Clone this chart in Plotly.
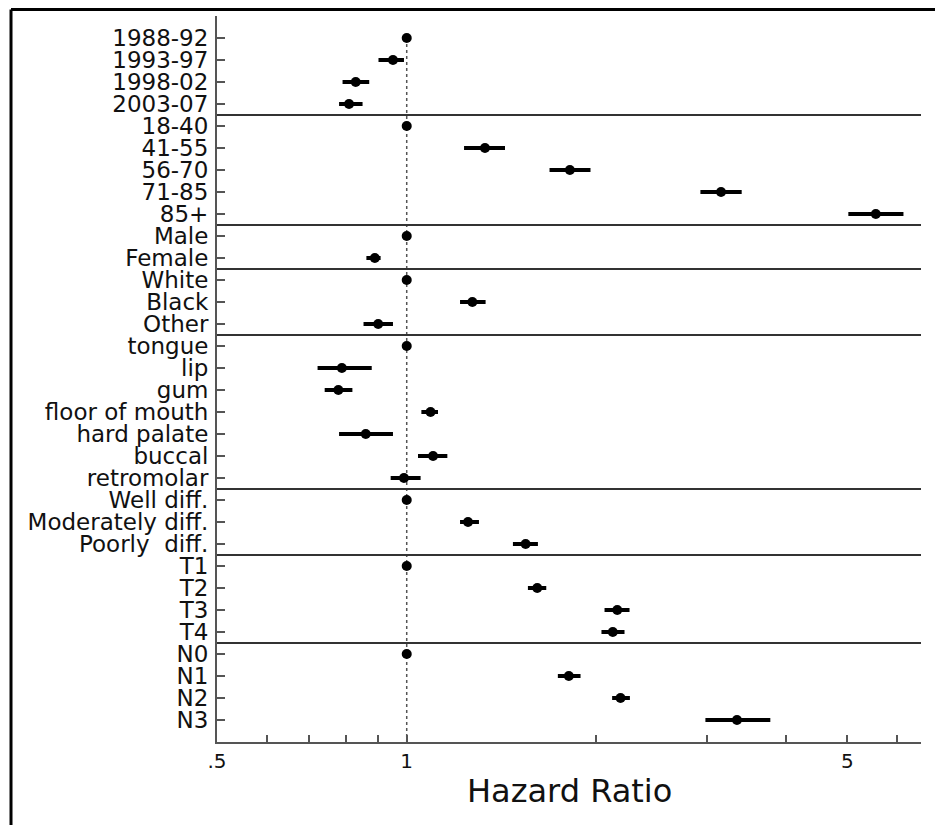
import plotly.graph_objects as go

# ---- data ----
group_sizes = [4, 5, 2, 3, 7, 3, 4, 4]
labels = ["1988-92", "1993-97", "1998-02", "2003-07",
          "18-40", "41-55", "56-70", "71-85", "85+",
          "Male", "Female",
          "White", "Black", "Other",
          "tongue", "lip", "gum", "floor of mouth", "hard palate", "buccal", "retromolar",
          "Well diff.", "Moderately diff.", "Poorly  diff.",
          "T1", "T2", "T3", "T4",
          "N0", "N1", "N2", "N3"]
hr = [1.0, 0.951, 0.830, 0.810,
      1.0, 1.331, 1.815, 3.153, 5.55,
      1.0, 0.890,
      1.0, 1.271, 0.901,
      1.0, 0.789, 0.779, 1.091, 0.861, 1.101, 0.990,
      1.0, 1.251, 1.544,
      1.0, 1.611, 2.158, 2.123,
      1.0, 1.808, 2.184, 3.342]
lo = [1.0, 0.902, 0.791, 0.781,
      1.0, 1.233, 1.685, 2.924, 5.02,
      1.0, 0.863,
      1.0, 1.215, 0.854,
      1.0, 0.722, 0.741, 1.055, 0.781, 1.042, 0.943,
      1.0, 1.215, 1.474,
      1.0, 1.557, 2.060, 2.037,
      1.0, 1.737, 2.118, 2.978]
hi = [1.0, 0.990, 0.872, 0.851,
      1.0, 1.432, 1.957, 3.400, 6.14,
      1.0, 0.909,
      1.0, 1.334, 0.951,
      1.0, 0.880, 0.820, 1.121, 0.951, 1.160, 1.052,
      1.0, 1.302, 1.615,
      1.0, 1.665, 2.257, 2.216,
      1.0, 1.887, 2.260, 3.775]
x_tickvals = [0.5, 1, 5]
x_ticktext = [".5", "1", "5"]
x_minor = [0.6, 0.7, 0.8, 0.9, 2, 3, 4, 6]

rows = list(range(1, len(labels) + 1))
n = len(labels)

FONT = "DejaVu Sans, Liberation Sans, Arial, sans-serif"

fig = go.Figure()

# reference line at HR = 1
fig.add_trace(go.Scatter(x=[1, 1], y=[1, n + 1], mode="lines",
                         line=dict(color="#555555", width=1.5, dash="dot"),
                         hoverinfo="skip", showlegend=False))

fig.add_trace(go.Scatter(
    x=hr, y=rows, mode="markers",
    marker=dict(color="black", size=10, symbol="circle"),
    error_x=dict(type="data", symmetric=False,
                 array=[h - v for h, v in zip(hi, hr)],
                 arrayminus=[v - l for v, l in zip(hr, lo)],
                 color="black", thickness=4, width=0),
    showlegend=False))

shapes = []
cum = 0
for s in group_sizes[:-1]:
    cum += s
    shapes.append(dict(type="line", xref="paper", yref="y", x0=0, x1=1,
                       y0=cum + 0.5, y1=cum + 0.5,
                       line=dict(color="#333333", width=2)))
# outer frame (top and left)
shapes.append(dict(type="line", xref="paper", yref="paper",
                   x0=-0.2926, x1=1.04, y0=1.0089, y1=1.0089,
                   line=dict(color="black", width=3)))
shapes.append(dict(type="line", xref="paper", yref="paper",
                   x0=-0.2926, x1=-0.2926, y0=1.0089, y1=-0.13,
                   line=dict(color="black", width=3)))

fig.update_layout(
    width=935, height=817,
    margin=dict(l=209, r=22, t=8, b=83),
    paper_bgcolor="white", plot_bgcolor="white",
    font=dict(family=FONT, color="black"),
    shapes=shapes,
    annotations=[dict(text="Hazard Ratio", x=0.5, y=-0.039, xref="paper", yref="paper",
                      xanchor="center", yanchor="top", showarrow=False,
                      font=dict(family=FONT, size=32, color="#111111"))],
)
fig.update_xaxes(type="log", range=[-0.30103, 0.816],
                 tickvals=x_tickvals, ticktext=x_ticktext,
                 ticks="inside", ticklen=7, tickwidth=2, tickcolor="#555555",
                 minor=dict(tickvals=x_minor, ticks="inside", ticklen=7,
                            tickwidth=2, tickcolor="#555555"),
                 showline=True, linecolor="#555555", linewidth=2,
                 showgrid=False, zeroline=False,
                 tickfont=dict(family=FONT, size=20, color="#111111"))
fig.update_yaxes(range=[n + 1, 0], tickvals=rows, ticktext=labels,
                 ticks="inside", ticklen=8, tickwidth=2, tickcolor="#555555",
                 showline=True, linecolor="#555555", linewidth=2,
                 showgrid=False, zeroline=False,
                 ticklabelstandoff=2,
                 tickfont=dict(family=FONT, size=23, color="#111111"))

fig.write_html("out.html")
